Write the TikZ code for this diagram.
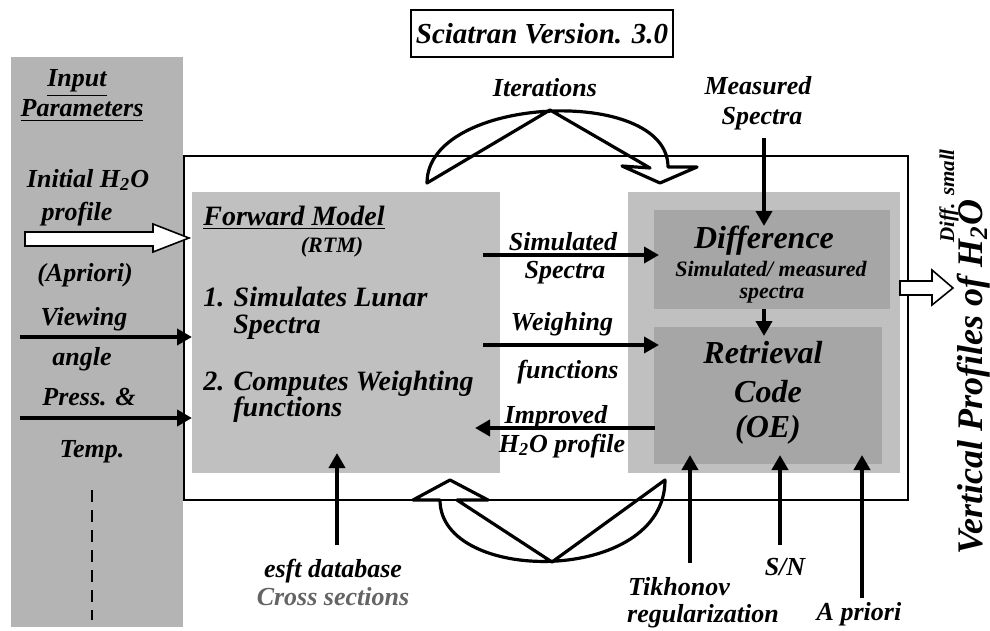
\documentclass[tikz,border=0pt]{standalone}
\usepackage{fontspec}
\setmainfont{Liberation Serif}
\usetikzlibrary{arrows.meta}
\definecolor{panelgray}{RGB}{180,180,180}
\definecolor{boxgray}{RGB}{192,192,192}
\definecolor{innergray}{RGB}{166,166,166}
\definecolor{crossgray}{RGB}{100,100,100}
\begin{document}
\begin{tikzpicture}[x=0.5pt,y=-0.5pt,
  lbl/.style={font=\fontsize{13}{15}\selectfont\bfseries\itshape, inner sep=0pt},
  fmlbl/.style={font=\fontsize{14}{16}\selectfont\bfseries\itshape, inner sep=0pt},
  biglbl/.style={font=\fontsize{16}{18}\selectfont\bfseries\itshape, inner sep=0pt},
  smalllbl/.style={font=\fontsize{11}{13}\selectfont\bfseries\itshape, inner sep=0pt},
  boxnode/.style={anchor=north west, inner sep=0pt, outer sep=0pt},
  thickarrow/.style={line width=2pt, -{Triangle[length=7.5pt,width=8pt]}},
  outlineshape/.style={line width=1.6pt, line join=round},
  hollowarrow/.style={draw=black, fill=white, line width=0.8pt, line join=miter}]

\useasboundingbox (0,0) rectangle (990,631);

% panels and boxes
\node[boxnode, fill=panelgray, minimum width=86pt, minimum height=285pt] (panel) at (11,57) {};
\node[boxnode, draw=black, line width=0.75pt, minimum width=362pt, minimum height=172pt] (frame) at (184,156) {};
\node[boxnode, fill=boxgray, minimum width=154pt, minimum height=140.5pt] (fm) at (192,192) {};
\node[boxnode, fill=boxgray, minimum width=136pt, minimum height=140.5pt] (rc) at (628,192) {};
\node[boxnode, fill=innergray, minimum width=118pt, minimum height=49.5pt] (diff) at (654,210) {};
\node[boxnode, fill=innergray, minimum width=114pt, minimum height=68.5pt] (ret) at (654,327) {};

% title
\node[draw=black, line width=0.6pt, minimum width=131pt, minimum height=23.5pt, inner sep=0pt,
      font=\fontsize{14.5}{16}\selectfont\bfseries\itshape] (title) at (542,33.5) {Sciatran Version. 3.0};

% left panel texts
\node[lbl, anchor=base] (inp) at (77,87) {\underline{Input}};
\node[lbl, anchor=base] (par) at (82,117) {\underline{Parameters}};
\node[lbl, anchor=base] (ini) at (88,187) {Initial H\textsubscript{2}O};
\node[lbl, anchor=base] (prof) at (77,220) {profile};
\node[lbl, anchor=base] (apr) at (85,281) {(Apriori)};
\node[lbl, anchor=base] (view) at (84,325) {Viewing};
\node[lbl, anchor=base] (ang) at (82,365) {angle};
\node[lbl, anchor=base] (press) at (89,405) {Press. \&};
\node[lbl, anchor=base] (temp) at (92,457) {Temp.};

% forward model texts
\node[fmlbl, anchor=base west] (fmt) at (203,225) {\underline{Forward Model}};
\node[smalllbl, anchor=base] (rtm) at (332,252) {(RTM)};
\node[fmlbl, anchor=base west] (s1) at (203,306) {1. Simulates Lunar};
\node[fmlbl, anchor=base west] (s1b) at (233,333) {Spectra};
\node[fmlbl, anchor=base west] (s2) at (203,390) {2. Computes Weighting};
\node[fmlbl, anchor=base west] (s2b) at (233,416) {functions};

% middle labels
\node[lbl, anchor=base] (simt) at (563,250) {Simulated};
\node[lbl, anchor=base] (simt2) at (565,278) {Spectra};
\node[lbl, anchor=base] (wt) at (562,330) {Weighing};
\node[lbl, anchor=base] (wt2) at (568,378) {functions};
\node[lbl, anchor=base] (impt) at (556,423) {Improved};
\node[lbl, anchor=base] (impt2) at (562,452) {H\textsubscript{2}O profile};

% right box texts
\node[biglbl, anchor=base] (difft) at (764,248) {Difference};
\node[smalllbl, anchor=base] (difft2) at (771,276) {Simulated/ measured};
\node[smalllbl, anchor=base] (difft3) at (772,298) {spectra};
\node[biglbl, anchor=base] (rett) at (763,363) {Retrieval};
\node[biglbl, anchor=base] (rett2) at (768,402) {Code};
\node[biglbl, anchor=base] (rett3) at (768,437) {(OE)};

% top labels
\node[lbl, anchor=base] (iter) at (545,97) {Iterations};
\node[lbl, anchor=base] (meas) at (758,95) {Measured};
\node[lbl, anchor=base] (meas2) at (762,125) {Spectra};

% bottom labels
\node[lbl, anchor=base] (esft) at (333,577) {esft database};
\node[lbl, anchor=base, text=crossgray] (cross) at (333,605) {Cross sections};
\node[lbl, anchor=base] (tikh) at (679,595) {Tikhonov};
\node[lbl, anchor=base] (reg) at (703,622) {regularization};
\node[lbl, anchor=base] (sn) at (785,575) {S/N};
\node[lbl, anchor=base] (apri) at (859,620) {A priori};

% rotated right texts
\node[inner sep=0pt, anchor=base, rotate=90, font=\fontsize{10.5}{12}\selectfont\bfseries\itshape] (dsmall) at (954,196) {Diff. small};
\node[inner sep=0pt, anchor=base, rotate=90, font=\fontsize{18}{20}\selectfont\bfseries\itshape] (vprof) at (982,377) {Vertical Profiles of H\textsubscript{2}O};

% coordinates for connectors
\coordinate (viewS) at (20,337);   \coordinate (viewE) at (192,337);
\coordinate (pressS) at (20,418);  \coordinate (pressE) at (192,418);
\coordinate (simS) at (483,255);   \coordinate (simE) at (659,255);
\coordinate (wS) at (483,345);     \coordinate (wE) at (659,345);
\coordinate (impS) at (655,428);   \coordinate (impE) at (475,428);
\coordinate (measS) at (764,138);  \coordinate (measE) at (764,226);
\coordinate (drS) at (764,309);    \coordinate (drE) at (764,336);
\coordinate (esftS) at (337,545);  \coordinate (esftE) at (337,453);
\coordinate (tikhS) at (690,563);  \coordinate (tikhE) at (690,455);
\coordinate (snS) at (780,545);    \coordinate (snE) at (780,455);
\coordinate (apS) at (862,598);    \coordinate (apE) at (862,455);
\coordinate (dashS) at (92,490);   \coordinate (dashE) at (92,620);

% thick arrows
\draw[thickarrow] (viewS) -- (viewE);
\draw[thickarrow] (pressS) -- (pressE);
\draw[thickarrow] (simS) -- (simE);
\draw[thickarrow] (wS) -- (wE);
\draw[thickarrow] (impS) -- (impE);
\draw[thickarrow] (measS) -- (measE);
\draw[thickarrow] (drS) -- (drE);
\draw[thickarrow] (esftS) -- (esftE);
\draw[thickarrow] (tikhS) -- (tikhE);
\draw[thickarrow] (snS) -- (snE);
\draw[thickarrow] (apS) -- (apE);

% dashed line
\draw[line width=1pt, dash pattern=on 6pt off 4pt] (dashS) -- (dashE);

% hollow arrows
\draw[hollowarrow] (25,232) -- (153,232) -- (153,224) -- (189,238) -- (153,252) -- (153,246) -- (25,246) -- cycle;
\draw[hollowarrow] (900,281) -- (932,281) -- (932,270) -- (953,288) -- (932,305) -- (932,295) -- (900,295) -- cycle;

% iteration shapes
\draw[outlineshape] (427,183) .. controls (427,95) and (668,85) .. (668,167)
   -- (697,167) -- (660,183) -- (622,166) -- (650,168) -- (550,110) -- cycle;
\draw[outlineshape] (665,480) .. controls (665,585) and (440,585) .. (440,500)
   -- (413,500) -- (450,480) -- (488,500) -- (457,500) -- (552,562) -- cycle;
\end{tikzpicture}
\end{document}
